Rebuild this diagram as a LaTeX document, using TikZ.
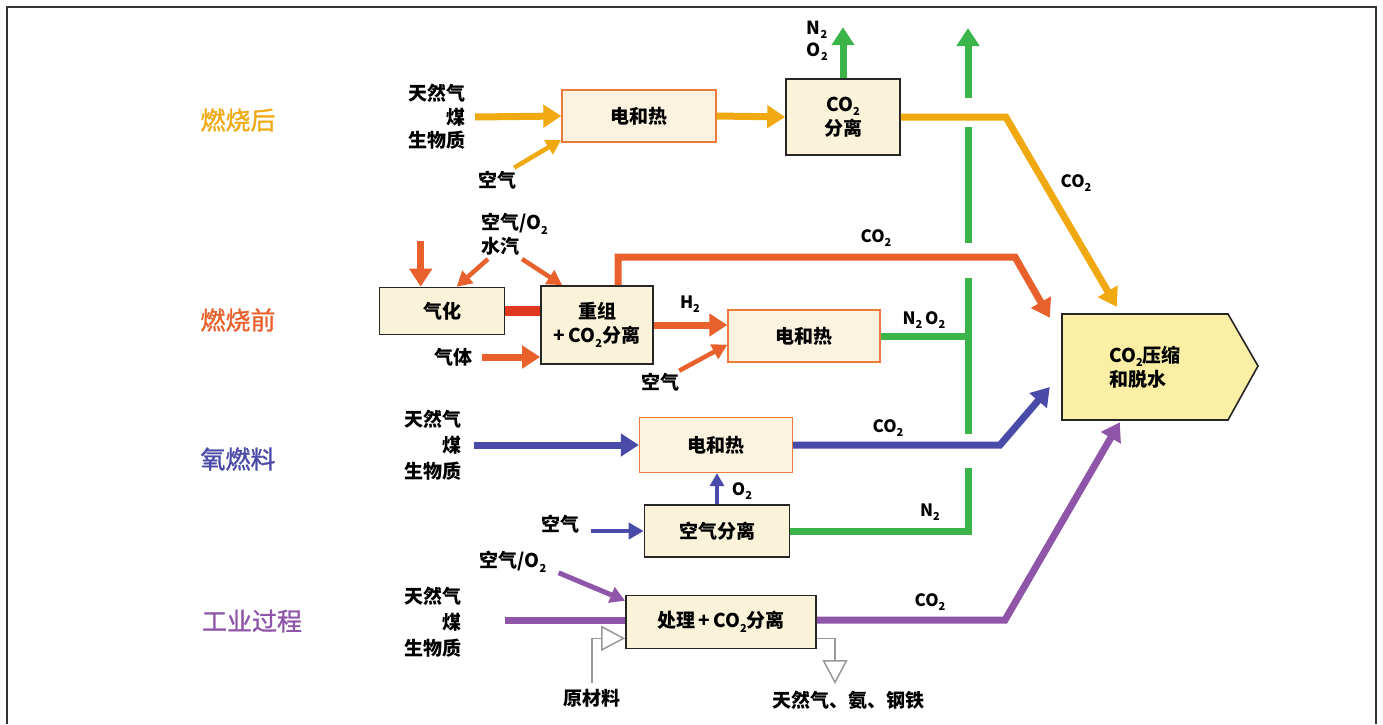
\documentclass[tikz,border=0pt]{standalone}
\usepackage{fontspec}
\setmainfont{Noto Sans CJK SC}
\newfontfamily\rowfont{Noto Sans CJK SC}[FakeBold=1.2]
\usetikzlibrary{arrows.meta,calc}
\definecolor{cyel}{HTML}{F0A910}
\definecolor{corg}{HTML}{E8612C}
\definecolor{cred}{HTML}{E0381E}
\definecolor{cblu}{HTML}{4A4AA8}
\definecolor{cpur}{HTML}{8E55A8}
\definecolor{cgrn}{HTML}{3BB449}
\definecolor{cream}{HTML}{FAF3DA}
\definecolor{peach}{HTML}{FCF2E0}
\definecolor{obord}{HTML}{EC7A3C}
\definecolor{compf}{HTML}{FBEFA6}
\newcommand\lowsub[1]{\raisebox{-0.45ex}{\fontsize{11}{11}\selectfont #1}}
\begin{document}
\begin{tikzpicture}[x=1pt,y=-1pt,
  txt/.style={font=\fontsize{19}{23.5}\selectfont\bfseries, inner sep=0pt},
  txtw/.style={font=\fontsize{19}{26}\selectfont\bfseries, inner sep=0pt},
  lab/.style={font=\fontsize{17}{20}\selectfont\bfseries, inner sep=0pt},
  rowlab/.style={font=\rowfont\fontsize{25}{28}\selectfont, inner sep=0pt},
  bbox/.style={draw=black!85, line width=1.6pt, fill=cream, align=center, inner sep=2pt,
    font=\fontsize{19}{24}\selectfont\bfseries},
  obox/.style={draw=obord, line width=1.3pt, fill=peach, align=center, inner sep=2pt,
    font=\fontsize{19}{24}\selectfont\bfseries},
  flow/.style={line width=7pt, -{Triangle[length=18pt,width=22pt]}},
  band/.style={line width=7pt},
  thinar/.style={line width=4.5pt, -{Triangle[length=15pt,width=16pt]}},
  grayar/.style={draw=black!40, line width=1.5pt, -{Triangle[open,length=24pt,width=25pt,fill=white]}}
]
\useasboundingbox (0,0) rectangle (1383,724);
\fill[white] (0,0) rectangle (1383,724);
\draw[line width=2pt, black!80] (7,724) -- (7,7) -- (1376,7) -- (1376,724);

% compressor
\draw[line width=1.6pt, draw=black!85, fill=compf, line join=miter]
  (1062,314) -- (1228,314) -- (1258,366) -- (1228,420) -- (1062,420) -- cycle;
\node[font=\fontsize{19}{24}\selectfont\bfseries, align=left, minimum width=166pt, minimum height=106pt, inner sep=0pt]
  (comp) at (1145,367) {CO\lowsub2压缩\\和脱水};

% row labels
\node[rowlab, text=cyel] (r1) at (238,120) {燃烧后};
\node[rowlab, text=corg] (r2) at (238,320) {燃烧前};
\node[rowlab, text=cblu] (r3) at (238,459) {氧燃料};
\node[rowlab, text=cpur] (r4) at (252,621) {工业过程};

% green collector
\coordinate (gv) at (968,0);
\draw[cgrn, band] (968,434) -- (968,278);
\draw[cgrn, band] (968,243) -- (968,127);
\draw[cgrn, flow] (968,98) -- (968,28);

% ---- post combustion
\node[txt, align=right, anchor=east] (f1) at (466,117) {天然气\\煤\\生物质};
\node[obox, minimum width=154pt, minimum height=52pt] (e1) at (639,116) {电和热};
\node[bbox, minimum width=114pt, minimum height=76pt] (s1) at (843,117) {CO\lowsub2\\分离};
\node[txt] (a1) at (497,180) {空气};
\draw[flow, cyel] ($(f1.east)+(9,0)$) -- (e1.west);
\draw[thinar, cyel] ($(a1.north east)+(-2,-3)$) -- ($(e1.south west)+(0,-3)$);
\draw[flow, cyel] (e1.east) -- (s1.west);
\draw[flow, cgrn] (s1.north) -- ++(0,-51);
\node[txt, align=left, anchor=east, font=\fontsize{18}{22}\selectfont\bfseries] (no1) at (828,41) {N\lowsub2\\O\lowsub2};
\coordinate (t1) at ($(comp.north west)+(55,-7)$);
\draw[flow, cyel] (s1.east) -- ++(105,0) -- (t1);
\node[lab] (c1) at (1076,183) {CO\lowsub2};

% ---- pre combustion
\node[bbox, minimum width=125pt, minimum height=47pt] (gas) at (442,311) {气化};
\node[bbox, minimum width=112pt, minimum height=78pt] (ref) at (597,325) {重组\\+\,CO\lowsub2分离};
\node[obox, minimum width=152pt, minimum height=52pt] (e2) at (804,336) {电和热};
\draw[cred, line width=10pt] (gas.east) -- (gas.east -| ref.west);
\draw[flow, corg] ($(gas.north west)+(42,-46)$) -- ($(gas.north west)+(42,0)$);
\node[txt, align=left, anchor=north west] (ao) at (481,213) {空气/O\lowsub2\\水汽};
\coordinate (ao1) at (488,259);
\coordinate (ao2) at (522,259);
\draw[thinar, corg] (ao1) -- ($(gas.north west)+(78,0)$);
\draw[thinar, corg] (ao2) -- ($(ref.north west)+(22,0)$);
\node[txt] (gi) at (453,357) {气体};
\draw[flow, corg] ($(gi.east)+(10,0)$) -- (gi.east -| ref.west);
\node[lab] (h2) at (690,304) {H\lowsub2};
\draw[flow, corg] (ref.east) -- (ref.east -| e2.west);
\node[txt] (a2) at (660,382) {空气};
\draw[thinar, corg] ($(a2.north east)+(0,-2)$) -- ($(e2.south west)+(0,-18)$);
\draw[cgrn, band] (e2.east) -- (e2.east -| gv);
\node[lab] (no2) at (924,320) {N\lowsub2\,O\lowsub2};
\coordinate (k2) at (1015,257);
\coordinate (t2) at ($(comp.north west)+(-12,4)$);
\draw[flow, corg] ($(ref.north)+(21,0)$) |- (k2) -- (t2);
\node[lab] (c2) at (876,238) {CO\lowsub2};

% ---- oxy fuel
\node[txtw, align=right, anchor=east] (f3) at (462,445) {天然气\\煤\\生物质};
\node[obox, minimum width=153pt, minimum height=55pt] (e3) at (716,445) {电和热};
\node[bbox, minimum width=145pt, minimum height=52pt] (asu) at (717,531) {空气分离};
\draw[flow, cblu] ($(f3.east)+(12,0)$) -- (e3.west);
\draw[cblu, line width=4.5pt, -{Triangle[length=13pt,width=14pt]}] (asu.north) -- (asu.north |- e3.south);
\node[lab] (o2) at (742,491) {O\lowsub2};
\node[txt] (a3) at (560,524) {空气};
\draw[thinar, cblu] ($(asu.west)+(-53,0)$) -- (asu.west);
\coordinate (t3) at ($(comp.west)+(-12,20)$);
\draw[flow, cblu] (e3.east) -- (1000,445) -- (t3);
\node[lab] (c3) at (888,428) {CO\lowsub2};
\draw[cgrn, band] (asu.east) -- (asu.east -| gv) -- (968,468);
\node[lab] (n2) at (930,512) {N\lowsub2};

% ---- industrial
\node[bbox, minimum width=190pt, minimum height=53pt] (proc) at (721,622) {处理\,+\,CO\lowsub2分离};
\node[txtw, align=right, anchor=east] (f4) at (462,622) {天然气\\煤\\生物质};
\draw[cpur, band] ($(f4.east)+(43,-2)$) -- (proc.west |- 0,620);
\node[txt] (ao4) at (513,562) {空气/O\lowsub2};
\draw[thinar, cpur, line width=5pt] ($(ao4.south east)+(12,0)$) -- ($(proc.north west)+(0,6)$);
\coordinate (t4) at ($(comp.south west)+(58,2)$);
\draw[flow, cpur] (proc.east |- 0,620) -- (1005,620) -- (t4);
\node[lab] (c4) at (930,602) {CO\lowsub2};
\node[txt] (rm) at (592,698) {原材料};
\draw[grayar] ($(rm.north)+(0,-6)$) |- ($(proc.south west)+(0,-11)$);
\node[txt] (out) at (848,700) {天然气、氨、钢铁};
\coordinate (outtip) at (835,684);
\draw[grayar] ($(proc.south east)+(0,-11)$) -| (outtip);
\end{tikzpicture}
\end{document}
